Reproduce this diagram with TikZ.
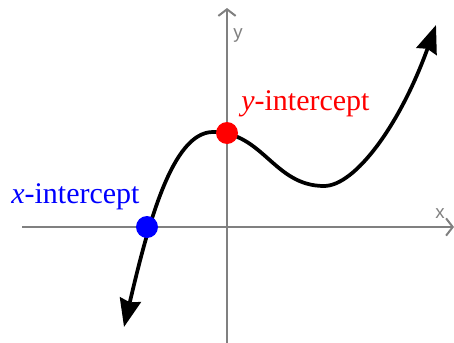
\documentclass[tikz,border=0pt]{standalone}
\usepackage{fontspec}
\setmainfont{Liberation Serif}
\newfontfamily\axisfont{Liberation Sans}
\usetikzlibrary{arrows.meta,positioning}
\definecolor{axisgrey}{HTML}{808080}
\definecolor{ptred}{HTML}{FF0000}
\definecolor{ptblue}{HTML}{0000FF}
\tikzset{
  axis/.style={
    draw=axisgrey, line width=1.5pt,
    -{Straight Barb[length=5pt,width=13pt,line width=1.5pt]}
  },
  axislab/.style={
    font=\axisfont\fontsize{14}{15}\selectfont, text=axisgrey, inner sep=0pt
  },
  curve/.style={
    line width=2.8pt, line cap=round,
    {Stealth[length=21pt,width=16pt,inset=2pt]}-{Stealth[length=21pt,width=16pt,inset=2pt]}
  },
  dot/.style={
    circle, fill=#1, minimum size=16.5pt, inner sep=0pt
  },
  ilabel/.style={
    font=\fontsize{22.5}{26}\selectfont, text=#1, inner sep=0pt, anchor=base west
  },
}
\begin{document}
\begin{tikzpicture}[x=0.75pt,y=-0.75pt]
  \useasboundingbox (0,0) rectangle (454,343);

  %% Axes
  \coordinate (xl) at (22,227);
  \coordinate (xr) at (454,227);
  \coordinate (yb) at (227,343);
  \coordinate (yt) at (227,8);
  \draw[axis] (xl) -- (xr);
  \draw[axis] (yb) -- (yt);
  \node[axislab] (xlab) at (440,214) {x};
  \node[axislab] (ylab) at (238,36) {y};

  %% Curve: low end, local max, local min, high end
  \coordinate (lo) at (124,327);
  \coordinate (mx) at (213,132);
  \coordinate (mn) at (324,186);
  \coordinate (hi) at (436,25);
  \draw[curve] (lo) .. controls (148,225) and (172,132) .. (mx)
    .. controls (263,132) and (274,186) .. (mn)
    .. controls (355,186) and (400,125) .. (hi);

  %% Intercepts
  \node[dot=ptred] (yint) at (227,133) {};
  \node[dot=ptblue] (xint) at (147,227) {};
  \node[ilabel=ptred] (ytext) at (241,110) {\textit{y}-intercept};
  \node[ilabel=ptblue] (xtext) at (11,203) {\textit{x}-intercept};
\end{tikzpicture}
\end{document}
